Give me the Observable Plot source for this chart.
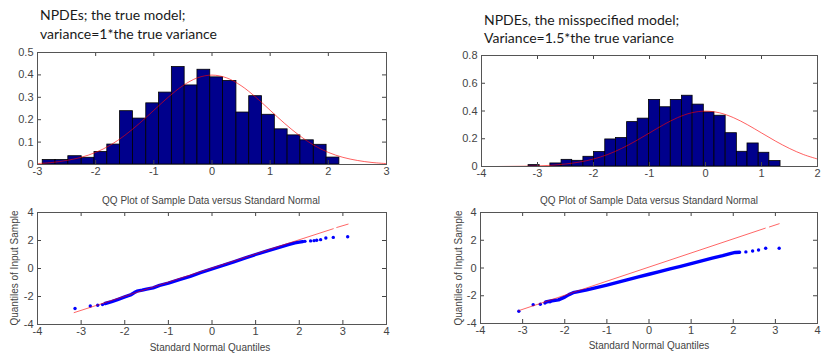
<!DOCTYPE html>
<html><head><meta charset="utf-8">
<script src="https://cdn.jsdelivr.net/npm/d3@7"></script>
<script src="https://cdn.jsdelivr.net/npm/@observablehq/plot@0.6"></script>
<style>
body{margin:0;background:#fff;}
#root{position:relative;width:822px;height:355px;overflow:hidden;background:#fff;}
.p{position:absolute;}
.p svg{overflow:visible;}
.t{position:absolute;font-family:Lato,"Open Sans",sans-serif;font-size:14px;color:#1a1a1a;white-space:pre;line-height:18.5px;}
.q{position:absolute;font-family:"Liberation Sans",Arial,sans-serif;font-size:10px;color:#444;white-space:nowrap;transform:translate(-50%,-50%);}
.qr{transform:translate(-50%,-50%) rotate(-90deg);}
</style></head><body><div id="root"></div>
<script>
// ---- text ----
const title1 = ["NPDEs; the true model;", "variance=1*the true variance"];
const title2 = ["NPDEs, the misspecified model;", "Variance=1.5*the true variance"];
const qqTitle = "QQ Plot of Sample Data versus Standard Normal";
const qqXLabel = "Standard Normal Quantiles";
const qqYLabel = "Quantiles of Input Sample";

// ---- tick labels ----
const hist1XTicks = [-3, -2, -1, 0, 1, 2, 3];
const hist1YTicks = [0, 0.1, 0.2, 0.3, 0.4, 0.5];
const hist2XTicks = [-4, -3, -2, -1, 0, 1, 2];
const hist2YTicks = [0, 0.2, 0.4, 0.6, 0.8];
const qqXTicks = [-4, -3, -2, -1, 0, 1, 2, 3, 4];
const qqYTicks = [-4, -2, 0, 2, 4];

// ---- histogram 1 (true model) ----
const hist1Edges = [-2.91,-2.69,-2.47,-2.24,-2.02,-1.80,-1.58,-1.36,-1.13,-0.91,-0.69,-0.47,-0.25,-0.03,0.19,0.42,0.64,0.86,1.08,1.30,1.52,1.75,1.97,2.19];
const hist1Density = [0.02,0.02,0.037,0.03,0.056,0.089,0.238,0.205,0.273,0.321,0.435,0.353,0.423,0.389,0.373,0.232,0.305,0.222,0.157,0.130,0.108,0.088,0.031];

// ---- histogram 2 (misspecified model) ----
const hist2Edges = [-3.16,-2.96,-2.77,-2.57,-2.38,-2.18,-1.99,-1.79,-1.60,-1.40,-1.21,-1.01,-0.81,-0.62,-0.42,-0.23,-0.03,0.16,0.36,0.56,0.75,0.95,1.14,1.34];
const hist2Density = [0.01,0,0.022,0.048,0.041,0.07,0.104,0.195,0.205,0.32,0.345,0.48,0.427,0.48,0.51,0.446,0.39,0.366,0.24,0.106,0.166,0.099,0.039];

// ---- red reference density curves ----
const curve1X = [-3,-2.75,-2.5,-2.25,-2,-1.75,-1.5,-1.25,-1,-0.75,-0.5,-0.25,0,0.25,0.5,0.75,1,1.25,1.5,1.75,2,2.25,2.5,2.75,3];
const curve1Y = [0.004,0.009,0.018,0.032,0.054,0.086,0.130,0.183,0.242,0.301,0.352,0.387,0.399,0.387,0.352,0.301,0.242,0.183,0.130,0.086,0.054,0.032,0.018,0.009,0.004];
const curve2X = [-4,-3.75,-3.5,-3.25,-3,-2.75,-2.5,-2.25,-2,-1.75,-1.5,-1.25,-1,-0.75,-0.5,-0.25,0,0.25,0.5,0.75,1,1.25,1.5,1.75,2];
const curve2Y = [0.000,0.000,0.001,0.002,0.004,0.009,0.018,0.032,0.054,0.086,0.130,0.183,0.242,0.301,0.352,0.387,0.399,0.387,0.352,0.301,0.242,0.183,0.130,0.086,0.054];

// ---- QQ plot 1 ----
const qq1BandX = [-2.45,-2.3,-2.15,-2.0,-1.85,-1.78,-1.72,-1.6,-1.5,-1.35,-1.2,-1.0,-0.75,-0.5,-0.25,0,0.25,0.5,0.75,1.0,1.25,1.5,1.75,1.9,2.0,2.08];
const qq1BandY = [-2.5,-2.36,-2.2,-2.03,-1.86,-1.72,-1.62,-1.55,-1.47,-1.38,-1.2,-1.04,-0.79,-0.56,-0.28,-0.02,0.22,0.48,0.74,1.0,1.24,1.48,1.71,1.83,1.88,1.92];
const qq1DotX = [-3.14,-2.79,-2.62,-2.51,2.13,2.26,2.34,2.40,2.49,2.61,2.78,3.11];
const qq1DotY = [-2.86,-2.68,-2.63,-2.58,1.94,1.97,1.99,2.02,2.06,2.18,2.22,2.27];
const qq1RefX = [-3.16, 2.78, 2.86, 3.12];
const qq1RefY = [-3.15, 2.84, 2.93, 3.17];
const qq1RefSeg = [0, 0, 1, 1];

// ---- QQ plot 2 ----
const qq2BandX = [-2.45,-2.3,-2.15,-2.0,-1.9,-1.8,-1.65,-1.5,-1.25,-1.0,-0.75,-0.5,-0.25,0,0.25,0.5,0.75,1.0,1.25,1.5,1.75,1.95,2.05,2.15];
const qq2BandY = [-2.45,-2.36,-2.3,-2.1,-1.92,-1.78,-1.68,-1.6,-1.42,-1.23,-1.04,-0.84,-0.64,-0.45,-0.26,-0.07,0.12,0.32,0.52,0.71,0.89,1.05,1.12,1.14];
const qq2DotX = [-3.09,-2.75,-2.58,-2.47,-2.35,2.30,2.46,2.60,2.77,3.09];
const qq2DotY = [-3.12,-2.64,-2.61,-2.52,-2.44,1.16,1.22,1.30,1.42,1.42];
const qq2RefX = [-3.09, 2.76, 2.86, 3.09];
const qq2RefY = [-3.07, 2.87, 2.96, 3.19];
const qq2RefSeg = [0, 0, 1, 1];

// ---- helpers ----
const root = document.getElementById("root");
const zip = (xs, ys) => xs.map((x, i) => ({x, y: ys[i]}));

function panel({box, frame, xDomain, yDomain, xTicks, yTicks, marks}) {
  const [L, T, W, H] = box;
  const ml = frame.l - L, mr = L + W - frame.r, mt = frame.t - T, mb = T + H - frame.b;
  const fw = frame.r - frame.l, fh = frame.b - frame.t, tl = 4;
  const innerX = xTicks.slice(1, -1), innerY = yTicks.slice(1, -1);
  const chart = Plot.plot({
    width: W, height: H,
    marginLeft: ml, marginRight: mr, marginTop: mt, marginBottom: mb,
    style: {fontFamily: "'Liberation Sans', Arial, sans-serif", fontSize: "11px", background: "transparent", overflow: "visible"},
    x: {domain: xDomain},
    y: {domain: yDomain},
    marks: [
      ...marks,
      Plot.ruleX(innerX, {x: d => d, insetTop: fh - tl, stroke: "#444"}),
      Plot.ruleX(innerX, {x: d => d, insetBottom: fh - tl, stroke: "#444"}),
      Plot.ruleY(innerY, {y: d => d, insetRight: fw - tl, stroke: "#444"}),
      Plot.ruleY(innerY, {y: d => d, insetLeft: fw - tl, stroke: "#444"}),
      Plot.frame({stroke: "#555"}),
      Plot.axisX(xTicks, {tickSize: 0, tickPadding: 3, tickFormat: d => String(d), fill: "#444", fontSize: 11, label: null}),
      Plot.axisY(yTicks, {tickSize: 0, tickPadding: 4, tickFormat: d => String(d), fill: "#444", fontSize: 11, label: null})
    ]
  });
  const div = document.createElement("div");
  div.className = "p";
  div.style.left = L + "px"; div.style.top = T + "px";
  div.appendChild(chart);
  root.appendChild(div);
}

function text(cls, str, left, top) {
  const d = document.createElement("div");
  d.className = cls; d.textContent = str;
  d.style.left = left + "px"; d.style.top = top + "px";
  root.appendChild(d);
}

function histMarks(edges, dens, cx, cy) {
  const bars = dens.map((v, i) => ({x1: edges[i], x2: edges[i + 1], y: v}));
  return [
    Plot.rectY(bars, {x1: "x1", x2: "x2", y1: 0, y2: "y", fill: "#00008c", stroke: "#000", strokeWidth: 0.8}),
    Plot.line(zip(cx, cy), {x: "x", y: "y", stroke: "#ff0000", strokeOpacity: 0.62, strokeWidth: 1, curve: "catmull-rom"})
  ];
}

function qqMarks(bx, by, dx, dy, rx, ry, rs) {
  const ref = rx.map((x, i) => ({x, y: ry[i], s: rs[i]}));
  return [
    Plot.line(zip(bx, by), {x: "x", y: "y", stroke: "#0000ff", strokeWidth: 3.4, curve: "linear"}),
    Plot.dot(zip(dx, dy), {x: "x", y: "y", r: 1.7, fill: "#0000ff", stroke: "none"}),
    Plot.line(ref, {x: "x", y: "y", z: "s", stroke: "#ff0000", strokeOpacity: 0.6, strokeWidth: 1})
  ];
}

// ---- panels ----
panel({box: [0, 40, 411, 150], frame: {l: 37, r: 386, t: 52, b: 164},
  xDomain: [-3, 3], yDomain: [0, 0.5], xTicks: hist1XTicks, yTicks: hist1YTicks,
  marks: histMarks(hist1Edges, hist1Density, curve1X, curve1Y)});
panel({box: [411, 40, 411, 150], frame: {l: 481, r: 817, t: 55, b: 166},
  xDomain: [-4, 2], yDomain: [0, 0.8], xTicks: hist2XTicks, yTicks: hist2YTicks,
  marks: histMarks(hist2Edges, hist2Density, curve2X, curve2Y)});
panel({box: [0, 190, 411, 165], frame: {l: 37, r: 386, t: 212, b: 324},
  xDomain: [-4, 4], yDomain: [-4, 4], xTicks: qqXTicks, yTicks: qqYTicks,
  marks: qqMarks(qq1BandX, qq1BandY, qq1DotX, qq1DotY, qq1RefX, qq1RefY, qq1RefSeg)});
panel({box: [411, 190, 411, 165], frame: {l: 480, r: 817, t: 212, b: 323},
  xDomain: [-4, 4], yDomain: [-4, 4], xTicks: qqXTicks, yTicks: qqYTicks,
  marks: qqMarks(qq2BandX, qq2BandY, qq2DotX, qq2DotY, qq2RefX, qq2RefY, qq2RefSeg)});

// ---- titles & labels ----
text("t", title1.join("\n"), 40, 6);
text("t", title2.join("\n"), 484, 10.5);
text("q", qqTitle, 211, 200);
text("q", qqTitle, 649, 200);
text("q", qqXLabel, 210, 347);
text("q", qqXLabel, 649, 345);
text("q qr", qqYLabel, 14, 268);
text("q qr", qqYLabel, 458, 268);
</script></body></html>
